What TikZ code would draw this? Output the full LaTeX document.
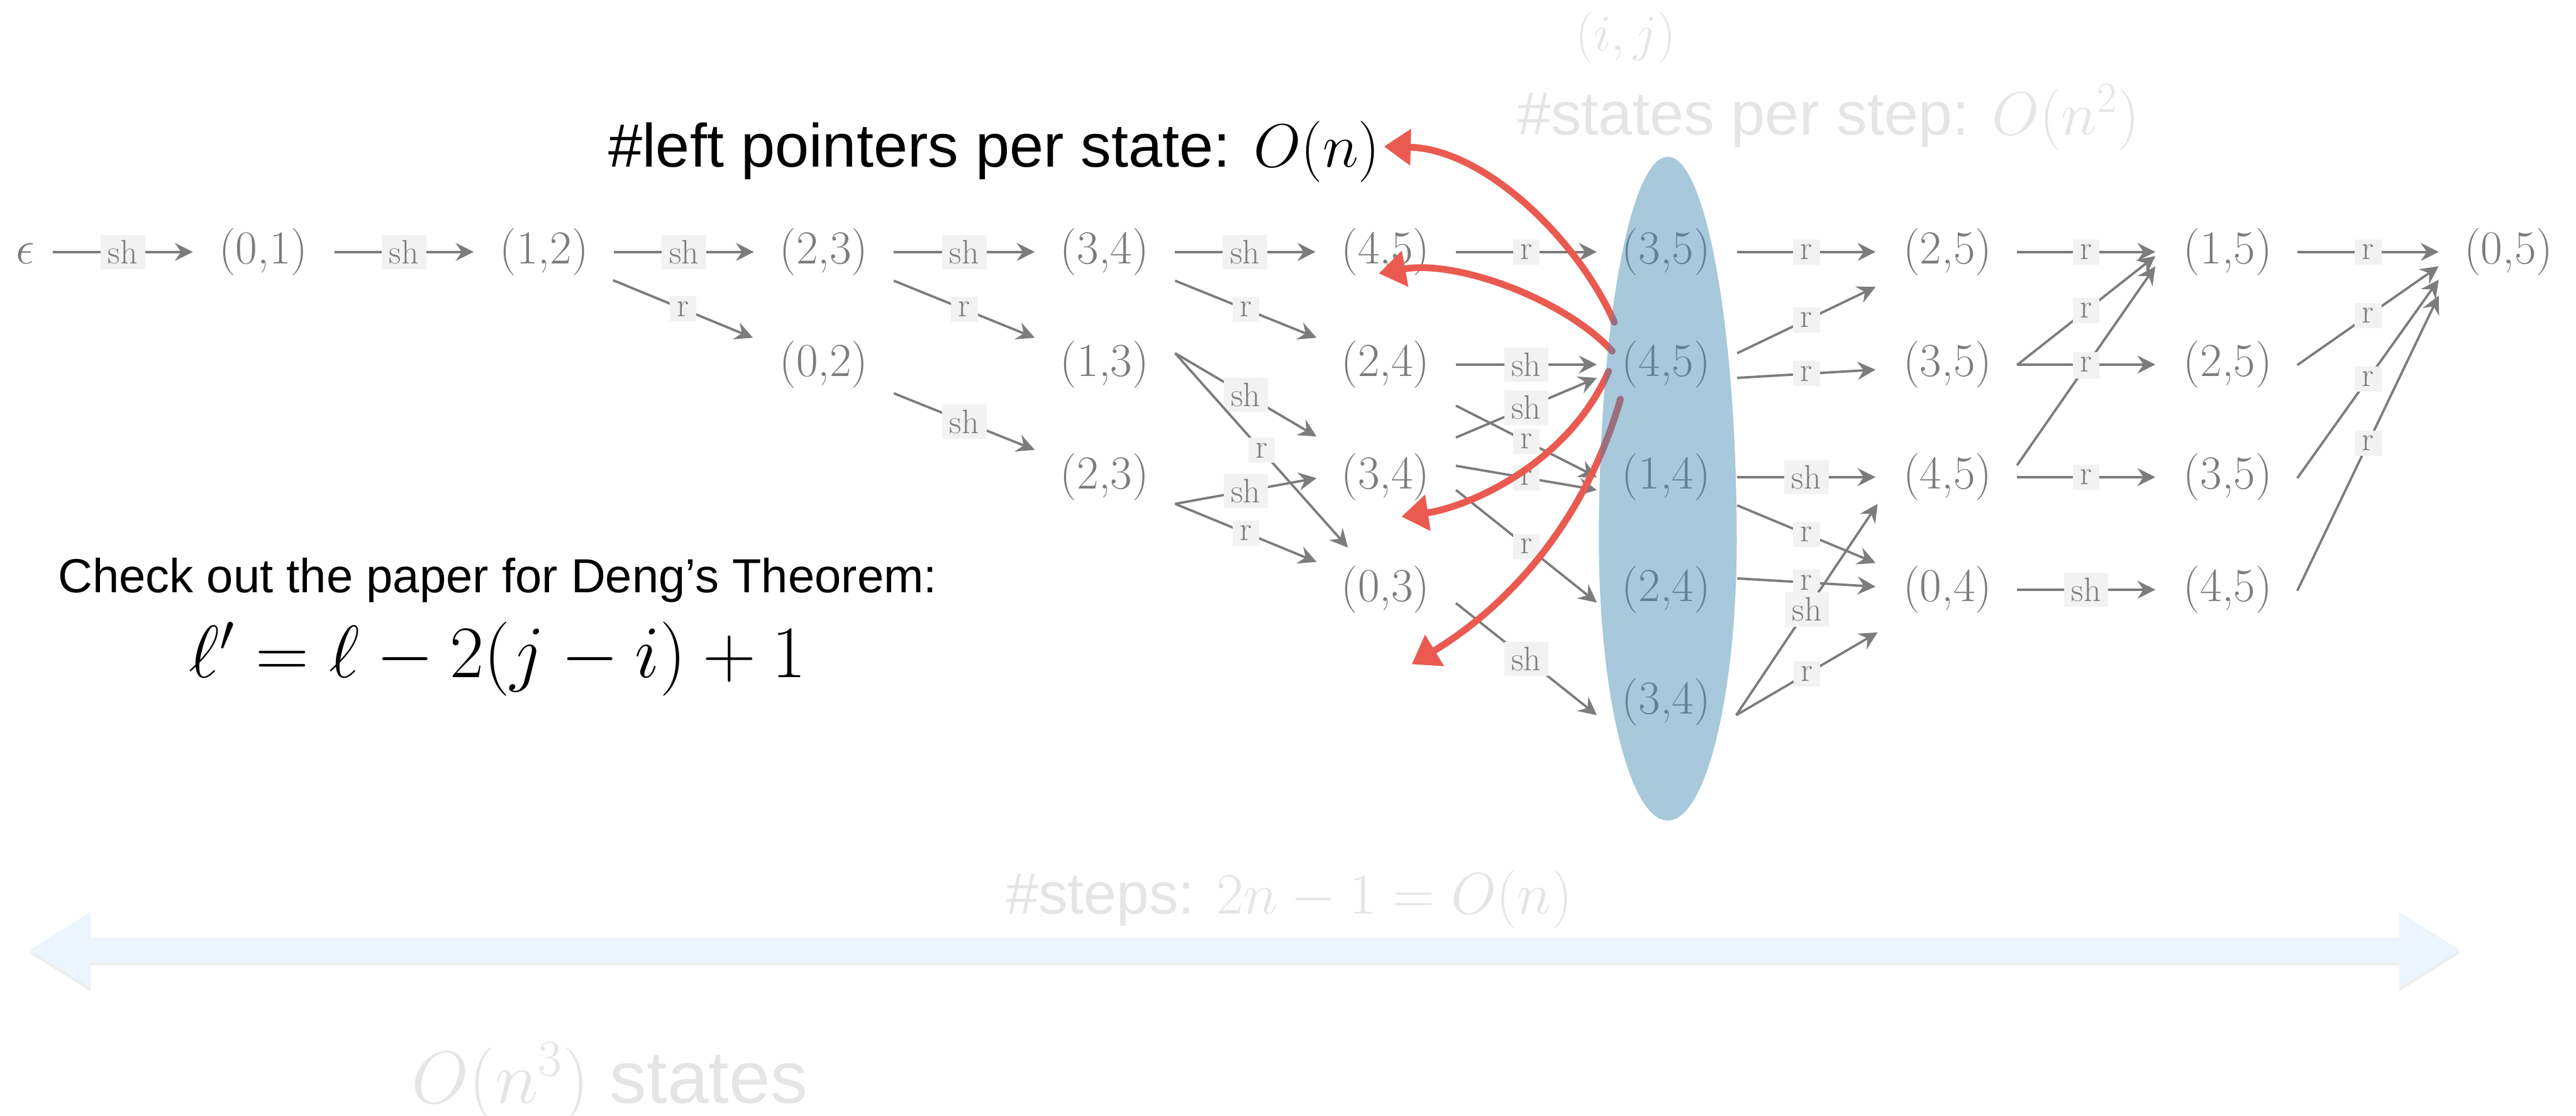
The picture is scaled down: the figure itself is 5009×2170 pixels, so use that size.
\RequirePackage{fix-cm}
\documentclass[tikz,border=0pt]{standalone}
\usepackage{fontspec}
\newfontfamily\hel{Liberation Sans}
\usetikzlibrary{arrows.meta,calc}
\definecolor{stgray}{RGB}{124,124,124}
\definecolor{labbg}{RGB}{242,242,242}
\definecolor{faint}{RGB}{229,229,229}
\definecolor{redarr}{RGB}{234,90,80}
\definecolor{ellblue}{RGB}{66,135,179}
\definecolor{dblarrow}{RGB}{236,244,253}
\tikzset{
  st/.style={text=stgray, font=\fontsize{23}{27}\selectfont, text height=17.25pt, text depth=5.75pt, inner sep=0pt},
  lab/.style={fill=labbg, text=stgray, font=\fontsize{16.5}{19}\selectfont, inner xsep=3.6pt, inner ysep=2.5pt},
  edg/.style={draw=stgray, line width=1.15pt, -{Stealth[length=8.75pt,width=8.75pt,inset=3pt]}},
  redarrow/.style={draw=redarr, line width=3.3pt, line cap=round, -{Triangle[length=13pt,width=17pt]}},
  txt/.style={inner sep=0pt, anchor=base west},
}
\newcommand\myedge[7]{\draw[edg] ([shift={(#2,#3)}]#1.center) -- node[lab]{#7} ([shift={(#5,#6)}]#4.center);}
\begin{document}
\begin{tikzpicture}[x=0.25pt,y=-0.25pt]
\useasboundingbox (0,0) rectangle (5009,2170);

% steps double arrow
\fill[black!7] (58,1854) -- (176,1780) -- (176,1830) -- (4665,1830) -- (4665,1780) -- (4783,1854) -- (4665,1928) -- (4665,1878) -- (176,1878) -- (176,1928) -- cycle;
\fill[dblarrow] (58,1848) -- (176,1774) -- (176,1824) -- (4665,1824) -- (4665,1774) -- (4783,1848) -- (4665,1922) -- (4665,1872) -- (176,1872) -- (176,1922) -- cycle;

% state nodes
\node[st] (e) at (49,490) {$\epsilon$};
\node[st] (n01) at (512,490) {(0,1)};
\node[st] (n12) at (1058,490) {(1,2)};
\node[st] (n23a) at (1602,490) {(2,3)};
\node[st] (n02) at (1602,709) {(0,2)};
\node[st] (n34a) at (2148,490) {(3,4)};
\node[st] (n13) at (2148,709) {(1,3)};
\node[st] (n23b) at (2148,928) {(2,3)};
\node[st] (n45a) at (2694,490) {(4,5)};
\node[st] (n24a) at (2694,709) {(2,4)};
\node[st] (n34b) at (2694,928) {(3,4)};
\node[st] (n03) at (2694,1147) {(0,3)};
\node[st] (n35a) at (3240,490) {(3,5)};
\node[st] (n45b) at (3240,709) {(4,5)};
\node[st] (n14) at (3240,928) {(1,4)};
\node[st] (n24b) at (3240,1147) {(2,4)};
\node[st] (n34c) at (3240,1366) {(3,4)};
\node[st] (n25a) at (3787,490) {(2,5)};
\node[st] (n35b) at (3787,709) {(3,5)};
\node[st] (n45c) at (3787,928) {(4,5)};
\node[st] (n04) at (3787,1147) {(0,4)};
\node[st] (n15) at (4332,490) {(1,5)};
\node[st] (n25b) at (4332,709) {(2,5)};
\node[st] (n35c) at (4332,928) {(3,5)};
\node[st] (n45d) at (4332,1147) {(4,5)};
\node[st] (n05) at (4878,490) {(0,5)};

% edges
\myedge{e}{54}{0}{n01}{-137}{0}{sh}
\myedge{n01}{138}{0}{n12}{-137}{0}{sh}
\myedge{n12}{136}{0}{n23a}{-136}{0}{sh}
\myedge{n12}{134}{55}{n02}{-138}{-52}{r}
\myedge{n23a}{136}{0}{n34a}{-136}{0}{sh}
\myedge{n23a}{136}{56}{n13}{-136}{-52}{r}
\myedge{n02}{136}{56}{n23b}{-136}{-53}{sh}
\myedge{n34a}{136}{0}{n45a}{-136}{0}{sh}
\myedge{n34a}{137}{56}{n24a}{-134}{-52}{r}
\myedge{n13}{137}{-22}{n34b}{-134}{-79}{sh}
\myedge{n13}{137}{-22}{n03}{-73}{-82}{r}
\myedge{n23b}{137}{52}{n34b}{-134}{2}{sh}
\myedge{n23b}{137}{52}{n03}{-134}{-54}{r}
\myedge{n45a}{137}{0}{n35a}{-135}{0}{r}
\myedge{n24a}{137}{0}{n45b}{-135}{0}{sh}
\myedge{n24a}{137}{80}{n14}{-135}{0}{r}
\myedge{n34b}{137}{-77}{n45b}{-135}{26}{sh}
\myedge{n34b}{137}{-22}{n14}{-135}{25}{r}
\myedge{n34b}{137}{25}{n24b}{-135}{25}{r}
\myedge{n03}{137}{26}{n34c}{-135}{25}{sh}
\myedge{n35a}{138}{0}{n25a}{-140}{0}{r}
\myedge{n45b}{138}{-22}{n25a}{-140}{68}{r}
\myedge{n45b}{138}{26}{n35b}{-140}{10}{r}
\myedge{n14}{138}{0}{n45c}{-140}{0}{sh}
\myedge{n14}{138}{55}{n04}{-140}{-52}{r}
\myedge{n24b}{138}{-22}{n04}{-140}{-6}{r}
\myedge{n34c}{136}{25}{n45c}{-136}{52}{sh}
\myedge{n34c}{136}{25}{n04}{-136}{83}{r}
\myedge{n25a}{135}{0}{n15}{-141}{0}{r}
\myedge{n35b}{135}{1}{n15}{-141}{8}{r}
\myedge{n45c}{135}{-23}{n15}{-141}{28}{r}
\myedge{n35b}{135}{0}{n25b}{-141}{0}{r}
\myedge{n45c}{135}{0}{n35c}{-141}{0}{r}
\myedge{n04}{135}{0}{n45d}{-141}{0}{sh}
\myedge{n15}{135}{0}{n05}{-136}{0}{r}
\myedge{n25b}{135}{1}{n05}{-136}{28}{r}
\myedge{n35c}{135}{2}{n05}{-136}{54}{r}
\myedge{n45d}{135}{2}{n05}{-136}{85}{r}

% texts
\node[txt, font=\hel\fontsize{29.75}{34}\selectfont] (lp) at (1182,325) {\#left pointers per state: $O(n)$};
\node[txt, font=\hel\fontsize{23.25}{28}\selectfont] (chk) at (112,1153) {Check out the paper for Deng’s Theorem:};
\node[txt, font=\fontsize{36}{43}\selectfont] (thm) at (367,1318) {$\ell' = \ell - 2(j - i) + 1$};

% red pointers
\coordinate (ra0) at (3139,627); \coordinate (ra1) at (2691,285);
\coordinate (rb0) at (3135,683); \coordinate (rb1) at (2681,532);
\coordinate (rc0) at (3128,722); \coordinate (rc1) at (2725,1005);
\coordinate (rd0) at (3151,776); \coordinate (rd1) at (2745,1292);
\draw[redarrow] (ra0) .. controls (3070,470) and (2890,290) .. (ra1);
\draw[redarrow] (rb0) .. controls (3040,580) and (2830,505) .. (rb1);
\draw[redarrow] (rc0) .. controls (3050,900) and (2860,985) .. (rc1);
\draw[redarrow] (rd0) .. controls (3080,1020) and (2930,1180) .. (rd1);

% highlighted step (egg-shaped ellipse)
\fill[ellblue, fill opacity=0.46] (3377,1050) .. controls (3377,638.5) and (3317,305) .. (3243,305)
  .. controls (3169,305) and (3109,638.5) .. (3109,1050)
  .. controls (3109,1351.6) and (3169,1596) .. (3243,1596)
  .. controls (3317,1596) and (3377,1351.6) .. (3377,1050) -- cycle;

% faint annotations
\node[inner sep=0pt, text=faint, font=\fontsize{25}{30}\selectfont] (ij) at (3161,74) {$(i,j)$};
\node[txt, text=faint, font=\hel\fontsize{29.75}{34}\selectfont] (sps) at (2949,262) {\#states per step: $O(n^2)$};
\node[txt, text=faint, font=\hel\fontsize{28.5}{34}\selectfont] (steps) at (1955,1778) {\#steps: $2n - 1 = O(n)$};
\node[txt, text=faint, font=\hel\fontsize{36}{43}\selectfont] (o3) at (799,2145) {$O(n^3)$ states};
\end{tikzpicture}
\end{document}
